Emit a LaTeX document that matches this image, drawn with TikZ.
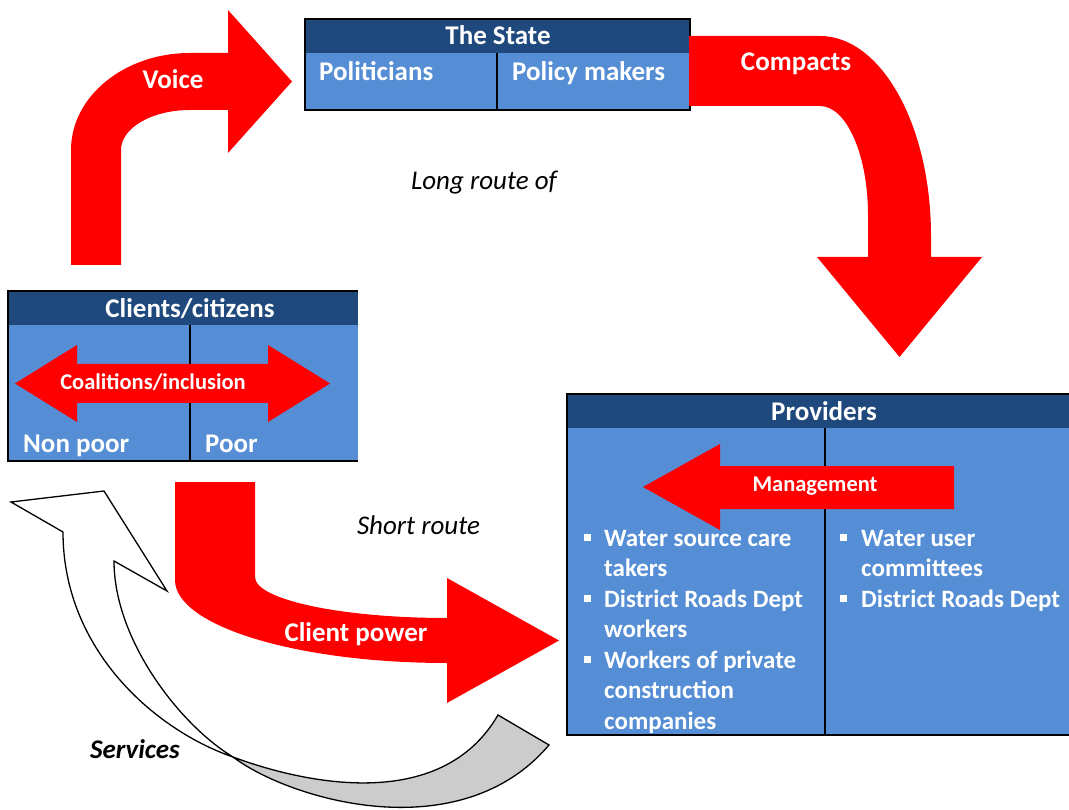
\documentclass[tikz,border=0pt]{standalone}
\usepackage{fontspec}
\setmainfont{Carlito}
\definecolor{hdrblue}{RGB}{31,73,125}
\definecolor{cellblue}{RGB}{85,142,213}
\definecolor{arrowred}{RGB}{255,0,0}
\definecolor{foldgray}{RGB}{204,204,204}
\tikzset{
  bigarrow/.style={fill=arrowred, draw=none},
  frame/.style={draw=black, line width=2.3pt},
  divider/.style={draw=black, line width=2pt},
  title/.style={text=white, inner sep=0pt, anchor=base, font=\fontsize{27}{32}\selectfont\bfseries},
  celltext/.style={text=white, inner sep=0pt, anchor=base west, font=\fontsize{27}{32}\selectfont\bfseries},
  arrowtext/.style={text=white, inner sep=0pt, anchor=base, font=\fontsize{27}{32}\selectfont\bfseries},
  smallarrowtext/.style={text=white, inner sep=0pt, anchor=base, font=\fontsize{22.5}{27}\selectfont\bfseries},
  item/.style={text=white, inner sep=0pt, anchor=base west, font=\fontsize{25}{30}\selectfont\bfseries},
  bullet/.style={fill=white, draw=none, inner sep=0pt, minimum size=7pt},
  route/.style={text=black, inner sep=0pt, anchor=base, font=\fontsize{27}{32}\selectfont\itshape},
  services/.style={text=black, inner sep=0pt, anchor=base, font=\fontsize{27}{32}\selectfont\bfseries\itshape},
}
\begin{document}
\begin{tikzpicture}[x=1pt,y=-1pt]
\useasboundingbox (0,0) rectangle (1069,810);

% ---- The State table ----
\fill[cellblue] (305,19) rectangle (690,110);
\fill[hdrblue] (305,19) rectangle (690,53);
\draw[divider] (497,53) -- (497,110);
\draw[frame] (305,19) rectangle (690,110);
\node[title] (stateT) at (498,45) {The State};
\node[celltext] (politicians) at (319,80.5) {Politicians};
\node[celltext] (policy) at (512,80.5) {Policy makers};

% ---- Clients/citizens table ----
\fill[cellblue] (8,291) rectangle (358,461);
\fill[hdrblue] (8,291) rectangle (358,325);
\draw[divider] (190,325) -- (190,461);
\draw[frame] (358,291) -- (8,291) -- (8,461) -- (358,461);
\node[title] (clientsT) at (190,317.5) {Clients/citizens};
\node[celltext] (nonpoor) at (23,452.5) {Non poor};
\node[celltext] (poor) at (205,452.5) {Poor};

% coalitions double arrow
\path[bigarrow] (15,383.5) -- (77,345) -- (77,364) -- (268,364) -- (268,345)
  -- (330,383.5) -- (268,422) -- (268,403) -- (77,403) -- (77,422) -- cycle;
\node[smallarrowtext] (coal) at (153,389.5) {Coalitions/inclusion};

% ---- Providers table ----
\fill[cellblue] (567,394) rectangle (1069,735);
\fill[hdrblue] (567,394) rectangle (1069,428);
\draw[divider] (825,428) -- (825,735);
\draw[frame] (1069,394) -- (567,394) -- (567,735) -- (1069,735);
\node[title] (provT) at (824,420.5) {Providers};

% management arrow
\path[bigarrow] (643,487) -- (720,444) -- (720,466) -- (954,466) -- (954,509)
  -- (720,509) -- (720,530) -- cycle;
\node[smallarrowtext] (mgmt) at (815,491) {Management};

% left column list
\node[bullet] (b1) at (587.5,537) {};
\node[item] (l1) at (604,546) {Water source care};
\node[item] (l2) at (604,576.5) {takers};
\node[bullet] (b2) at (587.5,598) {};
\node[item] (l3) at (604,607) {District Roads Dept};
\node[item] (l4) at (604,637.5) {workers};
\node[bullet] (b3) at (587.5,659) {};
\node[item] (l5) at (604,668) {Workers of private};
\node[item] (l6) at (604,698.5) {construction};
\node[item] (l7) at (604,729) {companies};
% right column list
\node[bullet] (b4) at (843.5,537) {};
\node[item] (r1) at (861,546) {Water user};
\node[item] (r2) at (861,576.5) {committees};
\node[bullet] (b5) at (843.5,598) {};
\node[item] (r3) at (861,607) {District Roads Dept};

% ---- Voice arrow (clients -> state) ----
\path[bigarrow] (71,265) -- (71,150) .. controls (71,96.4) and (124.3,53) .. (190,53)
  -- (228,53) -- (228,10) -- (292,81.5) -- (228,153) -- (228,110) -- (190,110)
  .. controls (151.9,110) and (121,127.9) .. (121,150) -- (121,265) -- cycle;
\node[arrowtext] (voice) at (173,89) {Voice};

% ---- Compacts arrow (state -> providers) ----
\path[bigarrow] (689,36) -- (820,36) .. controls (881.3,36) and (931,125.5) .. (931,236)
  -- (931,257) -- (982,257) -- (899.5,357) -- (817,257) -- (868,257) -- (868,215)
  .. controls (868,154.8) and (846.5,106) .. (820,106) -- (689,106) -- cycle;
\node[arrowtext] (compacts) at (796,70.5) {Compacts};

% ---- Client power arrow (clients -> providers) ----
\path[bigarrow] (175,482) -- (175,580) .. controls (175,625.8) and (296.8,663) .. (447,663)
  -- (447,703) -- (559,640.5) -- (447,578) -- (447,618)
  .. controls (341,618) and (255,599.6) .. (255,577) -- (255,482) -- cycle;
\node[arrowtext] (cpower) at (356,641.5) {Client power};

% ---- Services arrow (providers -> clients) ----
\filldraw[fill=white, draw=black, line width=1.3pt, line join=miter]
  (63,532) .. controls (63,650) and (155,730) .. (233,757)
  .. controls (180,725) and (114,640) .. (114,561)
  -- (167,591) -- (104,491) -- (11,502) -- cycle;
\filldraw[fill=foldgray, draw=black, line width=1.3pt, line join=miter]
  (233,757) .. controls (300,782) and (440,815) .. (498,715)
  -- (549,745) .. controls (460,850) and (290,800) .. (233,757) -- cycle;
\node[services] (serv) at (135,758) {Services};

% ---- route labels ----
\node[route] (longroute) at (484,190) {Long route of};
\node[route] (shortroute) at (418.5,534) {Short route};
\end{tikzpicture}
\end{document}
